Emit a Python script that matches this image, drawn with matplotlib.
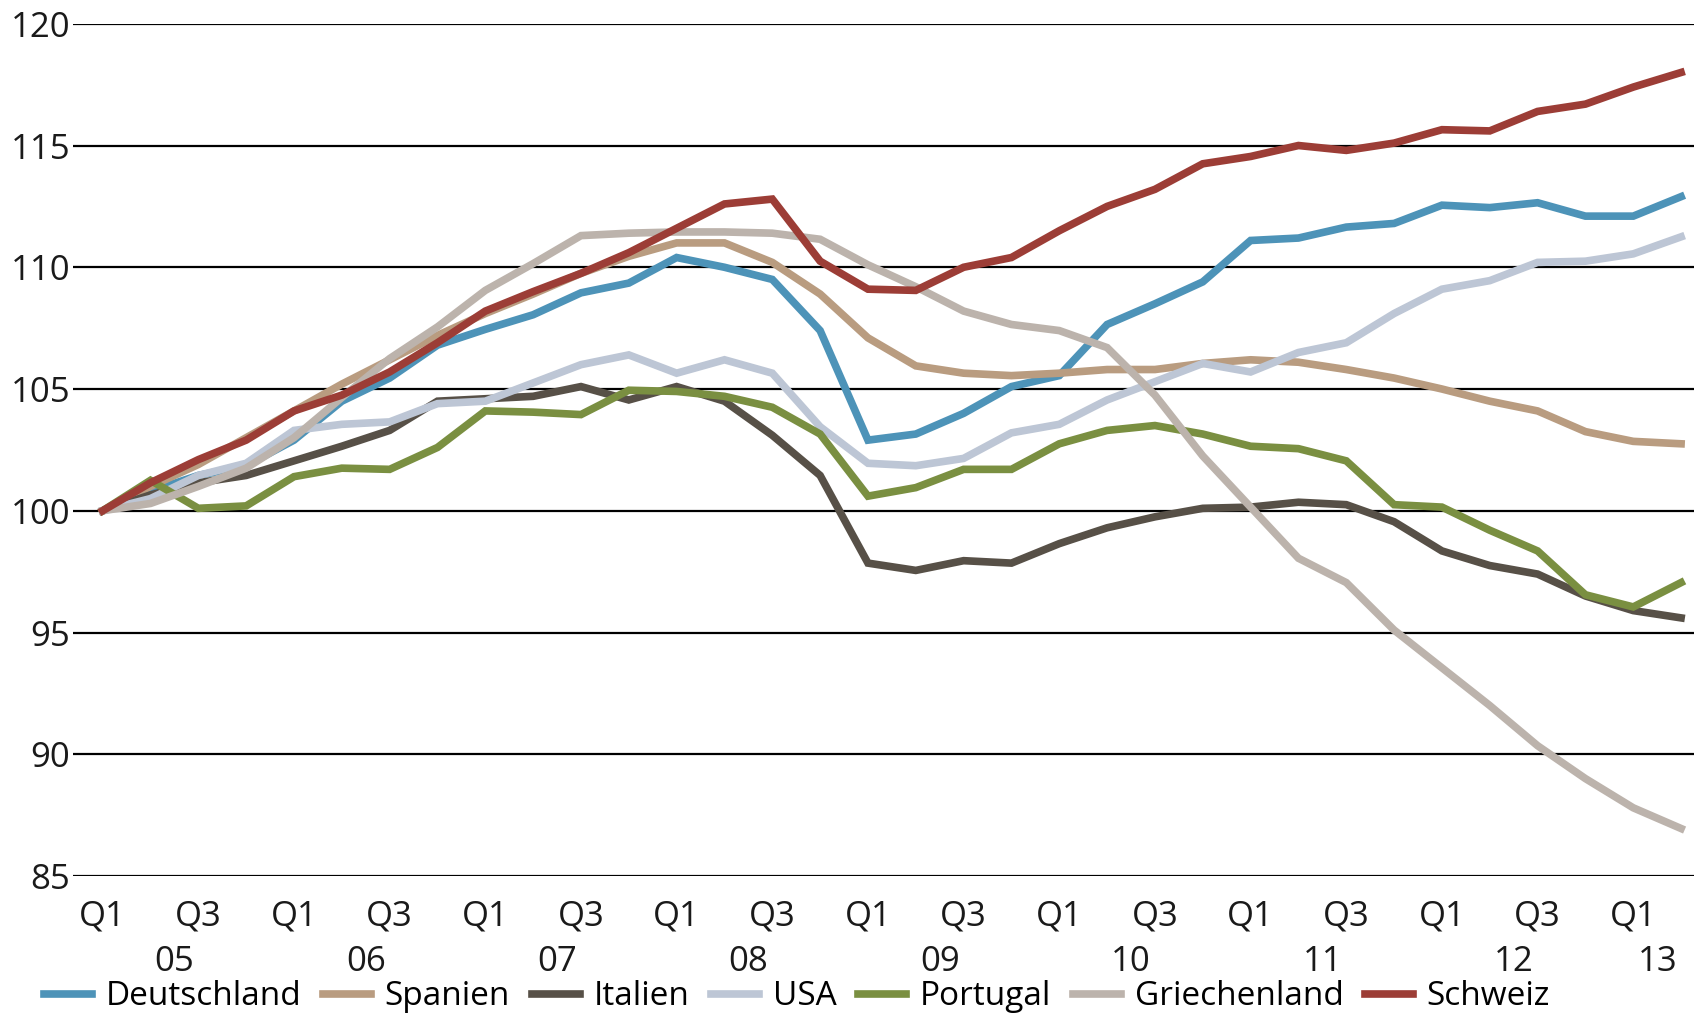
import matplotlib
matplotlib.use("Agg")
import matplotlib.pyplot as plt

plt.rcParams['font.family'] = ['Open Sans', 'DejaVu Sans']

# quarterly index, Q1 2005 = 100, up to Q2 2013
quarters = list(range(34))
q_ticks = list(range(0, 34, 2))
q_labels = ["Q1" if q % 4 == 0 else "Q3" for q in q_ticks]
year_pos = [1.5, 5.5, 9.5, 13.5, 17.5, 21.5, 25.5, 29.5, 32.5]
year_labels = ["05", "06", "07", "08", "09", "10", "11", "12", "13"]

deutschland = [100, 100.8, 101.45, 101.85, 102.9, 104.5, 105.45, 106.8, 107.45, 108.05,
               108.95, 109.35, 110.4, 110.0, 109.5, 107.4, 102.9, 103.15, 104.0, 105.1,
               105.55, 107.65, 108.5, 109.4, 111.1, 111.2, 111.65, 111.8, 112.55, 112.45,
               112.65, 112.1, 112.1, 112.9]
spanien = [100, 101.0, 101.9, 103.0, 104.1, 105.2, 106.2, 107.2, 108.1, 108.9,
           109.75, 110.45, 111.0, 111.0, 110.2, 108.9, 107.1, 105.95, 105.65, 105.55,
           105.65, 105.8, 105.8, 106.05, 106.2, 106.1, 105.8, 105.45, 105.0, 104.5,
           104.1, 103.25, 102.85, 102.75]
italien = [100, 100.65, 101.15, 101.45, 102.05, 102.65, 103.3, 104.5, 104.6, 104.7,
           105.1, 104.55, 105.1, 104.5, 103.1, 101.45, 97.85, 97.55, 97.95, 97.85,
           98.65, 99.3, 99.75, 100.1, 100.15, 100.35, 100.25, 99.55, 98.35, 97.75,
           97.4, 96.5, 95.9, 95.6]
usa = [100, 100.5, 101.45, 101.95, 103.3, 103.55, 103.65, 104.4, 104.5, 105.25,
       106.0, 106.4, 105.65, 106.2, 105.65, 103.45, 101.95, 101.85, 102.15, 103.2,
       103.55, 104.55, 105.3, 106.05, 105.7, 106.5, 106.9, 108.1, 109.1, 109.45,
       110.2, 110.25, 110.55, 111.25]
portugal = [100, 101.25, 100.1, 100.2, 101.4, 101.75, 101.7, 102.6, 104.1, 104.05,
            103.95, 104.95, 104.9, 104.7, 104.25, 103.15, 100.6, 100.95, 101.7, 101.7,
            102.75, 103.3, 103.5, 103.15, 102.65, 102.55, 102.05, 100.25, 100.15, 99.2,
            98.35, 96.55, 96.05, 97.05]
griechenland = [100, 100.3, 101.0, 101.75, 103.0, 104.65, 106.25, 107.55, 109.05, 110.15,
                111.3, 111.4, 111.45, 111.45, 111.4, 111.15, 110.1, 109.2, 108.2, 107.65,
                107.4, 106.7, 104.75, 102.25, 100.15, 98.05, 97.05, 95.1, 93.55, 92.0,
                90.35, 89.0, 87.8, 86.95]
schweiz = [100, 101.15, 102.1, 102.9, 104.1, 104.75, 105.7, 106.9, 108.2, 109.0,
           109.75, 110.6, 111.6, 112.6, 112.8, 110.25, 109.1, 109.05, 110.0, 110.4,
           111.5, 112.5, 113.2, 114.25, 114.55, 115.0, 114.8, 115.1, 115.65, 115.6,
           116.4, 116.7, 117.4, 118.0]

series = [("Deutschland", deutschland, "#4d93b8"),
          ("Spanien", spanien, "#b99c80"),
          ("Italien", italien, "#575047"),
          ("USA", usa, "#bdc6d5"),
          ("Portugal", portugal, "#7a8f41"),
          ("Griechenland", griechenland, "#bcb3ac"),
          ("Schweiz", schweiz, "#9c3d36")]

fig = plt.figure(figsize=(16.94, 10.16), dpi=100)
ax = fig.add_axes([0.0431, 0.1378, 0.9569, 0.8388])

for name, vals, col in series:
    ax.plot(quarters, vals, color=col, lw=5.5, label=name, solid_joinstyle='miter')

ax.set_xlim(-0.62, 33.27)
ax.set_ylim(85, 120)
ax.set_yticks([85, 90, 95, 100, 105, 110, 115, 120])
ax.yaxis.grid(True, color='black', lw=1.6)
ax.set_axisbelow(True)
for s in ax.spines.values():
    s.set_visible(False)

ax.set_xticks(q_ticks)
ax.set_xticklabels(q_labels)
ax.set_xticks(year_pos, minor=True)
ax.set_xticklabels(year_labels, minor=True)
ax.tick_params(axis='x', which='major', length=0, pad=17, labelsize=25, labelcolor='#1a1a1a')
ax.tick_params(axis='x', which='minor', length=0, pad=50, labelsize=25, labelcolor='#1a1a1a')
ax.tick_params(axis='y', length=0, pad=2, labelsize=25, labelcolor='#1a1a1a')

fig.legend(loc='center left', bbox_to_anchor=(0.026, 0.019), ncol=7, frameon=False,
           fontsize=24, handlelength=1.45, handletextpad=0.4, columnspacing=0.65,
           borderpad=0, borderaxespad=0)

fig.savefig("out.png", dpi=100)
